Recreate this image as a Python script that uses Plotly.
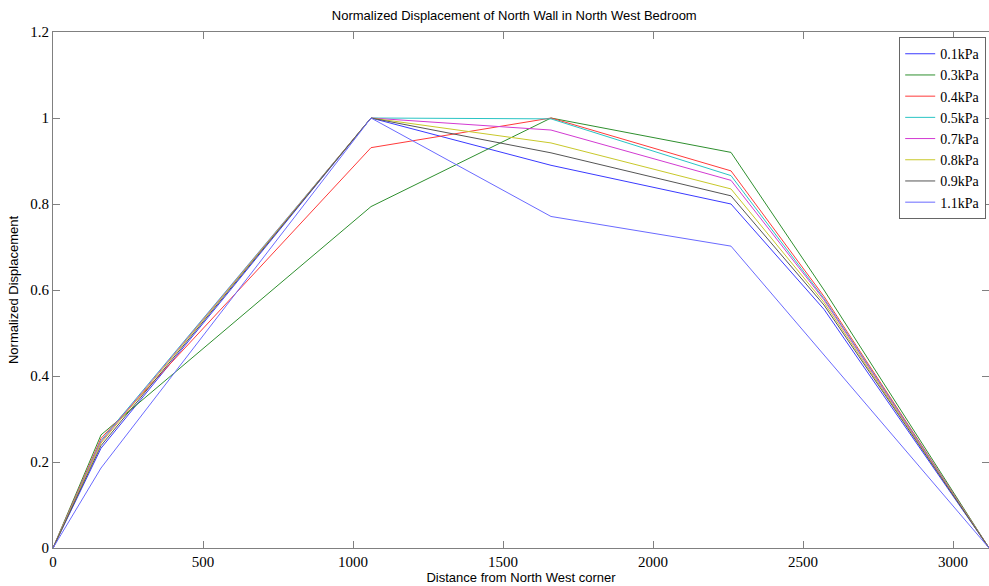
import plotly.graph_objects as go

# Measurement positions along the wall (mm from the north west corner)
distance = [0, 160, 1060, 1660, 2260, 2570, 3120]

# Normalized displacement for each pressure level
p01 = [0, 0.232, 1.0, 0.890, 0.800, 0.555, 0]
p03 = [0, 0.263, 0.794, 1.0, 0.920, 0.600, 0]
p04 = [0, 0.255, 0.931, 1.0, 0.877, 0.585, 0]
p05 = [0, 0.250, 1.0, 0.998, 0.866, 0.580, 0]
p07 = [0, 0.247, 1.0, 0.972, 0.855, 0.577, 0]
p08 = [0, 0.244, 1.0, 0.942, 0.835, 0.571, 0]
p09 = [0, 0.238, 1.0, 0.919, 0.819, 0.565, 0]
p11 = [0, 0.186, 1.0, 0.771, 0.702, 0.448, 0]

series_names = ["0.1kPa", "0.3kPa", "0.4kPa", "0.5kPa", "0.7kPa", "0.8kPa", "0.9kPa", "1.1kPa"]
series_values = [p01, p03, p04, p05, p07, p08, p09, p11]
series_colors = ["#3a3aff", "#2e8f2e", "#ff3a3a", "#2ac4c4", "#d23ad2", "#c8c82a", "#555555", "#6a6aff"]

x_ticks = [0, 500, 1000, 1500, 2000, 2500, 3000]
y_ticks = [0, 0.2, 0.4, 0.6, 0.8, 1, 1.2]
y_tick_text = ["0", "0.2", "0.4", "0.6", "0.8", "1", "1.2"]

SERIF = "Liberation Serif, Times New Roman, serif"
SANS = "Liberation Sans, Arial, sans-serif"

fig = go.Figure()
for name, vals, col in zip(series_names, series_values, series_colors):
    fig.add_trace(go.Scatter(
        x=distance, y=vals, mode="lines", name=name,
        line=dict(color=col, width=1),
    ))

axis_common = dict(
    showgrid=False, zeroline=False, showline=True, linecolor="#808080", linewidth=1,
    mirror="ticks", ticks="inside", ticklen=7, tickcolor="#808080",
    tickfont=dict(family=SERIF, size=15, color="#000000"),
)

fig.update_layout(
    width=989, height=586,
    margin=dict(l=53, r=0, t=32, b=38),
    paper_bgcolor="white", plot_bgcolor="white",
    title=dict(
        text="Normalized Displacement of North Wall in North West Bedroom",
        font=dict(family=SANS, size=13, color="#000000"),
        x=0.52, xanchor="center", y=0.974, yanchor="middle",
    ),
    xaxis=dict(
        range=[0, 3120], tickvals=x_ticks, ticktext=[str(v) for v in x_ticks],
        title=dict(text="Distance from North West corner", standoff=2,
                   font=dict(family=SANS, size=13, color="#000000")),
        **axis_common,
    ),
    yaxis=dict(
        range=[0, 1.2], tickvals=y_ticks, ticktext=y_tick_text,
        title=dict(text="Normalized Displacement", standoff=8,
                   font=dict(family=SANS, size=13, color="#000000")),
        **axis_common,
    ),
    legend=dict(
        x=0.997, xanchor="right", y=0.99, yanchor="top",
        bgcolor="white", bordercolor="#666666", borderwidth=1,
        font=dict(family=SERIF, size=14, color="#000000"),
        tracegroupgap=0, itemwidth=30,
    ),
    showlegend=True,
)

fig.write_html("out.html")
